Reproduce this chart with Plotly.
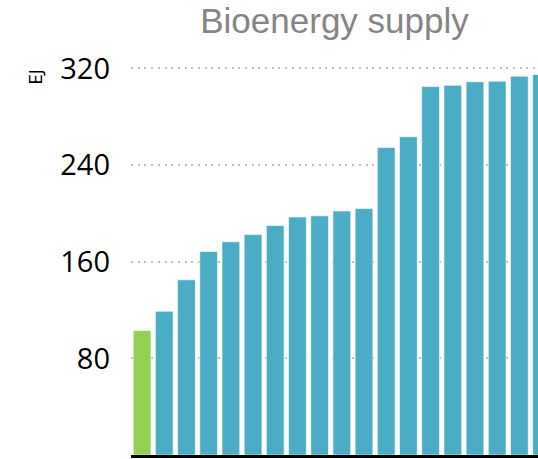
import plotly.graph_objects as go

# Data (EJ)
scenarios = ["S%d" % i for i in range(1, 20)]
supply = [103, 119, 145, 168.5, 176.5, 182.5, 190, 197, 198, 202, 204,
          254.5, 263.5, 305, 306, 309, 309.5, 313.5, 315]
colours = ["#92D050"] + ["#4BACC6"] * (len(supply) - 1)

fig = go.Figure()

fig.add_trace(go.Bar(
    x=scenarios,
    y=supply,
    marker=dict(color=colours, line=dict(color="rgba(255,255,255,0.6)", width=1)),
    showlegend=False,
))

# Unit label near the top of the axis
fig.add_annotation(
    text="EJ", textangle=-90,
    xref="paper", yref="paper", x=-0.238, y=0.958,
    xanchor="center", yanchor="middle",
    showarrow=False, font=dict(family="Open Sans", size=19, color="black"),
)

fig.update_layout(
    width=538, height=459,
    margin=dict(l=131, r=0, t=60, b=4),
    paper_bgcolor="white", plot_bgcolor="white",
    bargap=0.2,
    title=dict(
        text="Bioenergy supply",
        x=0.5, xref="paper", xanchor="center",
        y=1 - 21 / 459, yref="container", yanchor="middle",
        font=dict(family="Liberation Sans, Arial", size=35, color="#858585"),
    ),
    xaxis=dict(
        type="category",
        range=[-0.5, 17.84],
        showticklabels=False, showgrid=False,
        showline=True, linecolor="black", linewidth=3,
        ticks="",
    ),
    yaxis=dict(
        range=[0, 327],
        tickvals=[80, 160, 240, 320],
        showgrid=True, gridcolor="#BFBFBF", gridwidth=2, griddash="2px,4.7px",
        zeroline=False, showline=False, ticks="",
        ticklabelstandoff=20,
        tickfont=dict(family="Open Sans", size=29, color="black"),
    ),
)

# drop the default page margin so the figure fills the window exactly
fig.write_html("out.html",
               config={"displayModeBar": False},
               post_script="document.body.style.margin='0';document.body.style.overflow='hidden';")
